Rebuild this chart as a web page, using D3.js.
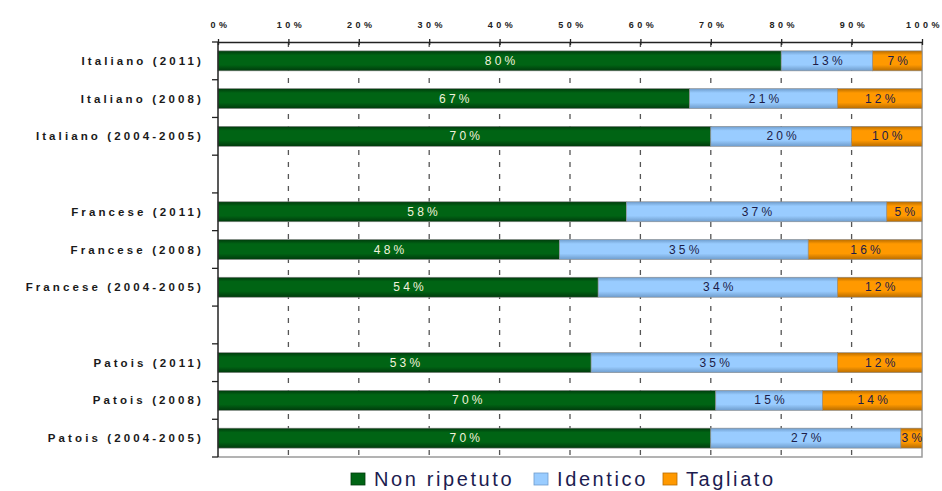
<!DOCTYPE html>
<html>
<head>
<meta charset="utf-8">
<script src="https://cdn.jsdelivr.net/npm/d3@7"></script>
<style>
  body { margin: 0; background: #fff; }
  svg { display: block; font-family: "Liberation Sans", Arial, sans-serif; }
</style>
</head>
<body>
<div id="chart"></div>
<script>
// valori (percentuali)
const categorie = ["Italiano (2011)", "Italiano (2008)", "Italiano (2004-2005)",
                   "Francese (2011)", "Francese (2008)", "Francese (2004-2005)",
                   "Patois (2011)", "Patois (2008)", "Patois (2004-2005)"];
const nonRipetuto = [80, 67, 70, 58, 48, 54, 53, 70, 70];
const identico    = [13, 21, 20, 37, 35, 34, 35, 15, 27];
const tagliato    = [7, 12, 10, 5, 16, 12, 12, 14, 3];
const serie = ["Non ripetuto", "Identico", "Tagliato"];
const tickPerc = [0, 10, 20, 30, 40, 50, 60, 70, 80, 90, 100];

const w = 942, h = 491;
const pL = 218, pR = 922, pT = 42, pB = 457;

const colori = {
  "Non ripetuto": ["#003a0c", "#006414"],
  "Identico": ["#6e9ccc", "#99ccff"],
  "Tagliato": ["#b86c00", "#ff9900"]
};
const coloreEtichetta = { "Non ripetuto": "#f2f2dc", "Identico": "#1c1c48", "Tagliato": "#1c1c48" };

// riga vuota fra i gruppi di lingue, come nel grafico originale
const slots = [];
categorie.forEach((c, i) => {
  if (i > 0 && i % 3 === 0) slots.push("_vuoto" + i);
  slots.push(c);
});

const table = categorie.map((c, i) => ({
  cat: c,
  "Non ripetuto": nonRipetuto[i],
  "Identico": identico[i],
  "Tagliato": tagliato[i]
}));

const stack = d3.stack().keys(serie).offset(d3.stackOffsetExpand);
const layers = stack(table);

const x = d3.scaleLinear().domain([0, 1]).range([pL, pR]);
const y = d3.scaleBand().domain(slots).range([pT, pB]).paddingInner(0.47).paddingOuter(0.235);

const svg = d3.select('#chart').append('svg').attr('width', w).attr('height', h);

const defs = svg.append('defs');
serie.forEach((s, i) => {
  const g = defs.append('linearGradient').attr('id', 'grad' + i)
    .attr('x1', 0).attr('y1', 0).attr('x2', 0).attr('y2', 1);
  g.append('stop').attr('offset', '0%').attr('stop-color', colori[s][0]);
  g.append('stop').attr('offset', '22%').attr('stop-color', colori[s][1]);
  g.append('stop').attr('offset', '70%').attr('stop-color', colori[s][1]);
  g.append('stop').attr('offset', '100%').attr('stop-color', colori[s][0]);
});

// griglia verticale tratteggiata
svg.append('g')
  .selectAll('line')
  .data(tickPerc.slice(1, -1))
  .enter()
  .append('line')
  .attr('x1', d => x(d / 100)).attr('x2', d => x(d / 100))
  .attr('y1', pT).attr('y2', pB)
  .style('stroke', '#555')
  .style('stroke-width', 1.3)
  .style('stroke-dasharray', '5,7');

// bordo grigio destro e inferiore
svg.append('path')
  .attr('d', `M${pR},${pT}V${pB}H${pL}`)
  .style('fill', 'none').style('stroke', '#9a9a9a').style('stroke-width', 1.5);

// barre
layers.forEach((layer, i) => {
  svg.append('g')
    .selectAll('rect')
    .data(layer)
    .enter()
    .append('rect')
    .attr('x', d => x(d[0]))
    .attr('y', d => y(d.data.cat))
    .attr('width', d => x(d[1]) - x(d[0]))
    .attr('height', y.bandwidth())
    .style('fill', `url(#grad${i})`)
    .style('stroke', '#8a8a8a')
    .style('stroke-width', 0.6);
});

// etichette dei valori
layers.forEach(layer => {
  const key = layer.key;
  svg.append('g')
    .selectAll('text')
    .data(layer)
    .enter()
    .append('text')
    .attr('x', d => (x(d[0]) + x(d[1])) / 2 + 2)
    .attr('y', d => y(d.data.cat) + y.bandwidth() / 2 + 4)
    .attr('text-anchor', 'middle')
    .style('font-size', '12px')
    .style('letter-spacing', '3.2px')
    .style('fill', coloreEtichetta[key])
    .text(d => d.data[key] + '%');
});

// asse superiore
const xA = d3.axisTop(x)
  .tickValues(tickPerc.map(d => d / 100))
  .tickFormat(d => Math.round(d * 100) + '%')
  .tickSizeInner(3)
  .tickSizeOuter(0);

const gx = svg.append('g')
  .attr('transform', 'translate(0,' + pT + ')')
  .attr('id', 'x-axis')
  .call(xA);
gx.select('.domain').style('stroke', '#222').style('stroke-width', 1.5);
gx.selectAll('.tick line').attr('y1', 3).style('stroke', '#222').style('stroke-width', 1.3);
gx.selectAll('.tick text')
  .attr('y', -14)
  .attr('dx', 2)
  .style('font-size', '9px')
  .style('font-weight', '700')
  .style('letter-spacing', '3.5px')
  .style('font-family', '"Liberation Sans", Arial, sans-serif')
  .style('fill', '#222');

// asse sinistro: tacche fra le righe
const yTicks = slots.map(s => y(s) - y.step() * y.paddingInner() / 2).concat([pB]);
svg.append('g')
  .selectAll('line')
  .data(yTicks)
  .enter()
  .append('line')
  .attr('x1', pL - 6).attr('x2', pL)
  .attr('y1', d => d).attr('y2', d => d)
  .style('stroke', '#222').style('stroke-width', 1.3);
svg.append('line')
  .attr('x1', pL).attr('x2', pL).attr('y1', pT).attr('y2', pB)
  .style('stroke', '#222').style('stroke-width', 1.5);

svg.append('g')
  .selectAll('text')
  .data(categorie)
  .enter()
  .append('text')
  .attr('x', 204)
  .attr('y', d => y(d) + y.bandwidth() / 2 + 4)
  .attr('text-anchor', 'end')
  .style('font-size', '11.5px')
  .style('font-weight', '700')
  .style('letter-spacing', '3.1px')
  .style('fill', '#1a1a1a')
  .text(d => d);

// legenda
const legX = [351, 534, 663];
const leg = svg.append('g')
  .selectAll('g')
  .data(serie)
  .enter()
  .append('g')
  .attr('transform', (d, i) => 'translate(' + legX[i] + ',473)');
leg.append('rect')
  .attr('width', 14).attr('height', 12)
  .style('fill', (d, i) => colori[d][1])
  .style('stroke', (d, i) => colori[d][0])
  .style('stroke-width', 0.8);
leg.append('text')
  .attr('x', 23).attr('y', 13)
  .style('font-size', '20px')
  .style('letter-spacing', '2.6px')
  .style('fill', '#1c1c50')
  .text(d => d);
</script>
</body>
</html>
